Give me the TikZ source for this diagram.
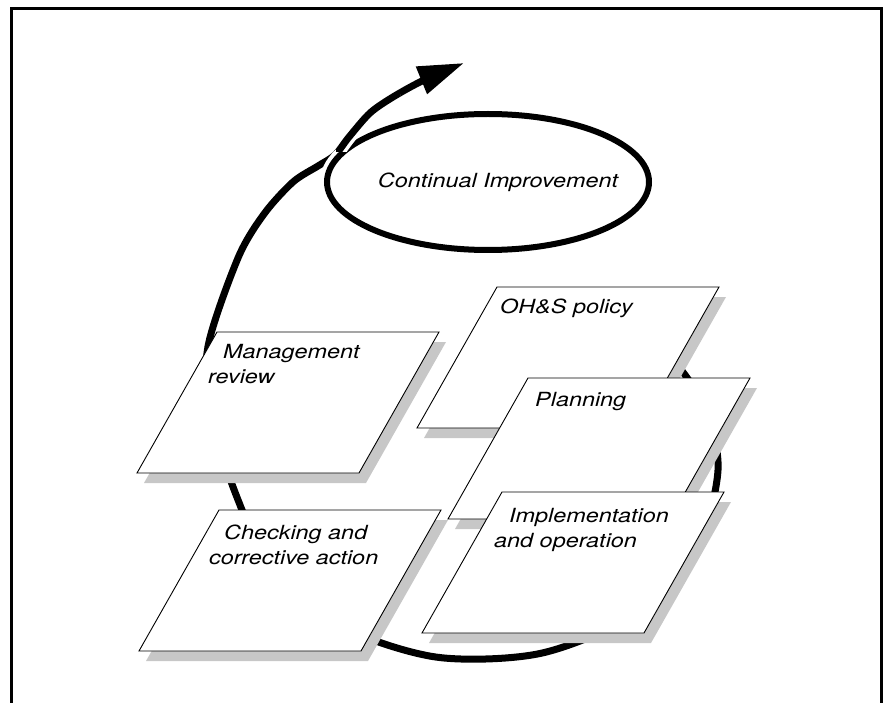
\documentclass[tikz,border=0pt]{standalone}
\usepackage{fontspec}
\newfontfamily\cardfont[FakeStretch=1.2]{TeX Gyre Heros}
\usetikzlibrary{shapes.geometric,shadows,arrows.meta}

\begin{document}
\begin{tikzpicture}[x=1pt, y=-1pt,
  card/.style={draw, line width=0.9pt, line join=miter, fill=white,
    drop shadow={shadow xshift=7pt, shadow yshift=-10pt, fill=black!22, opacity=1}},
  cardtext/.style={font=\cardfont\itshape\fontsize{19.5}{25}\selectfont, inner sep=0pt, anchor=base west},
  loopline/.style={line width=7pt, line join=round}]
\useasboundingbox (0,0) rectangle (883,703);
\draw[line width=3pt] (11.3,710) -- (11.3,9) -- (881.5,9) -- (881.5,710);

% the improvement spiral, passing behind and then over the ellipse
\draw[loopline, -{Triangle[length=46pt, width=28pt]}] plot[smooth] coordinates {(598,305.5) (662,348) (703.5,405) (718,470) (695.5,550.3) (632.3,615.5) (540,653.5) (436.3,657.1) (340.3,625.6) (270.2,565) (236.8,496.8) (210,413) (208,346.5) (238,258) (264,214) (293,182) (318,166) (335,155) (349,137) (370,113) (393,97) (424,80) (464,63)};
\node[ellipse, draw, line width=6pt, minimum width=322pt, minimum height=136pt,
  preaction={draw=white, line width=14pt}] (ci) at (488,182) {};
\begin{scope}
  \clip (336,95) rectangle (400,152);
  \draw[loopline, preaction={draw=white, line width=14pt}] plot[smooth] coordinates {(238,258) (264,214) (293,182) (318,166) (335,155) (349,137) (370,113) (393,97) (424,80) (464,63)};
\end{scope}
\node[cardtext, anchor=base] (ci-text) at ([shift={(10,6)}]ci.center) {Continual Improvement};

% the five steps, each card named by its top left corner
\foreach \cname/\cx/\cy in {ohs/497/287, review/217/332, check/219/510, plan/528/378, impl/502/492}
  \draw[card] (\cx,\cy) coordinate (\cname) -- ++(222,0) -- ++(-80,141) -- ++(-222,0) -- cycle;

\node[cardtext] (ohs-l1) at ([shift={(3,26)}]ohs) {OH\&S policy};
\node[cardtext] (review-l1) at ([shift={(6,26)}]review) {Management};
\node[cardtext] (review-l2) at ([shift={(-15,25)}]review-l1.base west) {review};
\node[cardtext] (check-l1) at ([shift={(5,29)}]check) {Checking and};
\node[cardtext] (check-l2) at ([shift={(-15,25)}]check-l1.base west) {corrective action};
\node[cardtext] (plan-l1) at ([shift={(7,28)}]plan) {Planning};
\node[cardtext] (impl-l1) at ([shift={(7,30)}]impl) {Implementation};
\node[cardtext] (impl-l2) at ([shift={(-15,25)}]impl-l1.base west) {and operation};
\end{tikzpicture}
\end{document}
